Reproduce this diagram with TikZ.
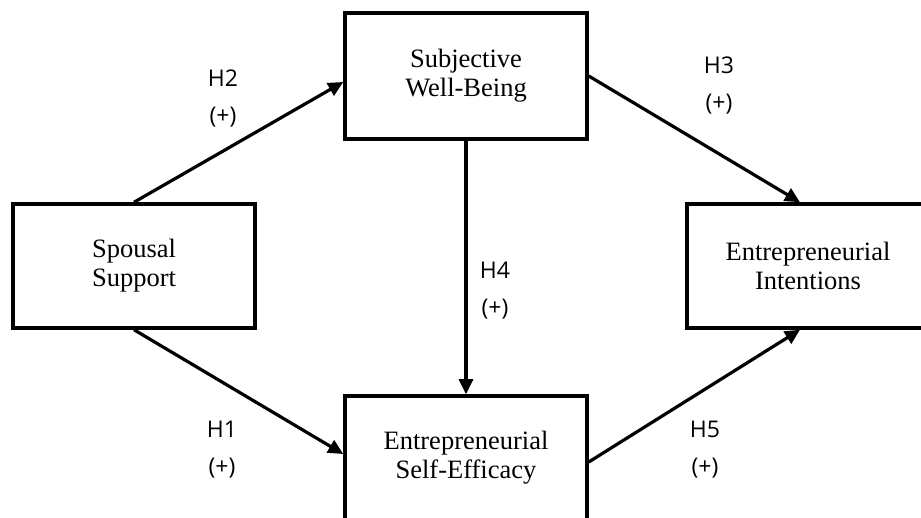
\documentclass[tikz,border=0pt]{standalone}
\usepackage{fontspec}
\setmainfont{Liberation Serif}
\newfontfamily\labfont{Open Sans}
\usetikzlibrary{arrows.meta}
\begin{document}
\begin{tikzpicture}[x=1pt,y=-1pt,
  box/.style={draw=black, line width=3.5pt, fill=white, minimum width=242pt, minimum height=124pt,
    align=center, font=\fontsize{26.5}{29}\selectfont, inner sep=0pt},
  arr/.style={line width=3.2pt, -{Triangle[length=15pt,width=14pt]}},
  lab/.style={align=center, font=\labfont\fontsize{23}{37}\selectfont, inner sep=0pt}]
\clip (0,0) rectangle (921,518);
\fill[white] (0,0) rectangle (921,518);
\node[box] (sp) at (134,266) {Spousal\\Support};
\node[box, minimum height=126pt] (sw) at (466,76) {Subjective\\Well-Being};
\node[box] (int) at (808,266) {Entrepreneurial\\Intentions};
\node[box] (se) at (466,458) {Entrepreneurial\\Self-Efficacy};
\draw[arr] (sp.north) -- ([yshift=-6pt]sw.west);
\draw[arr] (sp.south) -- ([yshift=4pt]se.west);
\draw[arr] (sw.south) -- (se.north);
\draw[arr] (sw.east) -- ([xshift=-8pt]int.north);
\draw[arr] ([yshift=-4pt]se.east) -- ([xshift=-8pt]int.south);
\node[lab] (h2) at (223,98) {H2\\(+)};
\node[lab] (h1) at (222,450) {H1\\(+)};
\node[lab] (h4) at (495,291) {H4\\(+)};
\node[lab] (h3) at (719,85) {H3\\(+)};
\node[lab] (h5) at (705,450) {H5\\(+)};
\end{tikzpicture}
\end{document}
